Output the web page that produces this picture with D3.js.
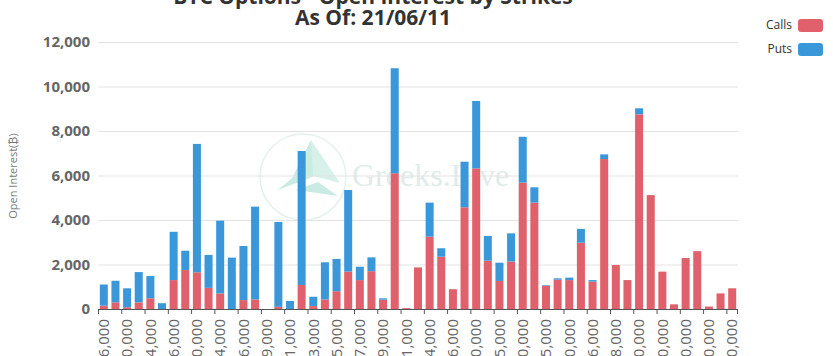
<!DOCTYPE html>
<html>
<head>
<meta charset="utf-8">
<script src="https://cdn.jsdelivr.net/npm/d3@7/dist/d3.min.js"></script>
<style>
html,body{margin:0;padding:0;background:#fff;}
svg{display:block;font-family:"Open Sans",sans-serif;}
</style>
</head>
<body>
<svg id="chart" width="833" height="356"></svg>
<script>
const strikes = ["16,000","18,000","20,000","22,000","24,000","25,000","26,000","28,000","30,000","32,000",
  "34,000","35,000","36,000","38,000","39,000","40,000","41,000","42,000","43,000","44,000",
  "45,000","46,000","47,000","48,000","49,000","50,000","51,000","52,000","54,000","55,000",
  "56,000","58,000","60,000","64,000","65,000","68,000","70,000","72,000","75,000","78,000",
  "80,000","85,000","86,000","87,000","88,000","90,000","100,000","110,000","120,000","130,000",
  "140,000","150,000","200,000","250,000","300,000"];
const calls = [150,300,80,300,480,0,1300,1750,1650,950,
  700,0,400,430,0,100,0,1080,130,430,
  800,1680,1300,1700,420,6100,40,1870,3250,2350,
  890,4570,6320,2170,1260,2130,5680,4780,1040,1320,
  1300,2980,1230,6740,1980,1300,8750,5120,1680,210,
  2290,2600,110,700,930];
const puts = [950,970,850,1360,1000,260,2170,870,5770,1480,
  3270,2310,2430,4170,0,3810,360,6020,420,1670,
  1450,3670,600,620,60,4720,0,0,1530,380,
  0,2050,3030,1110,820,1270,2060,690,30,60,
  110,620,70,210,0,0,270,0,0,0,
  0,0,0,0,0];
const yTicks = [0,2000,4000,6000,8000,10000,12000];
const seriesNames = ["Calls","Puts"];
const colors = ["#e0616b","#3a98da"];
const titleLines = ["BTC Options - Open Interest by Strikes","As Of: 21/06/11"];
const yAxisName = "Open Interest(\u20BF)";

const svg = d3.select("#chart");
const m = {left:98, right:738, top:42, bottom:309};

const x = d3.scaleBand().domain(d3.range(strikes.length)).range([m.left, m.right]).paddingInner(0.31).paddingOuter(0.155);
const xb = d3.scaleBand().domain(d3.range(strikes.length)).range([m.left, m.right]);
const y = d3.scaleLinear().domain([0,12000]).range([m.bottom, m.top]);

// watermark
const wm = svg.append("g").attr("opacity",0.55);
wm.append("circle").attr("cx",303).attr("cy",177).attr("r",43).attr("fill","none").attr("stroke","#cfe6e1").attr("stroke-width",1.5);
wm.append("path").attr("d","M311,140 L292,178 L278,190 L325,172 Z").attr("fill","#9fdccd");
wm.append("path").attr("d","M311,140 L340,183 L313,176 Z").attr("fill","#b7e6da");
wm.append("path").attr("d","M296,190 L338,196 L318,182 Z").attr("fill","#9fdccd");
wm.append("text").attr("x",352).attr("y",186).attr("font-family","'Liberation Serif',serif").attr("font-size",32).attr("fill","#c9dcd8").text("Greeks.Live");

// grid
svg.append("g").selectAll("line").data(yTicks.filter(d=>d>0)).join("line")
  .attr("x1",m.left).attr("x2",m.right).attr("y1",d=>y(d)+0.5).attr("y2",d=>y(d)+0.5)
  .attr("stroke","#e3e3e3").attr("stroke-width",1);

// y labels
svg.append("g").selectAll("text").data(yTicks).join("text")
  .attr("x",90).attr("y",d=>y(d)).attr("dy","0.35em").attr("text-anchor","end")
  .attr("font-size",15).attr("font-weight","bold").attr("fill","#666")
  .text(d=>d3.format(",")(d));

// y axis name
svg.append("text").attr("transform","translate(17,176) rotate(-90)").attr("text-anchor","middle")
  .attr("font-size",11).attr("fill","#777").text(yAxisName);

// bars
const stack = d3.stack().keys([0,1]).value((d,k)=>k===0?d.c:d.p);
const rows = strikes.map((s,i)=>({i, c:calls[i], p:puts[i]}));
const layers = stack(rows);
svg.append("g").selectAll("g").data(layers).join("g").attr("fill",(d,k)=>colors[k])
  .selectAll("rect").data(d=>d).join("rect")
  .attr("x",d=>x(d.data.i)).attr("width",x.bandwidth())
  .attr("y",d=>y(d[1])).attr("height",d=>Math.max(0,y(d[0])-y(d[1])));

// x axis
const xa = svg.append("g");
xa.append("line").attr("x1",m.left).attr("x2",m.right).attr("y1",m.bottom+0.5).attr("y2",m.bottom+0.5).attr("stroke","#555");
const labIdx = d3.range(0,strikes.length,2);
xa.selectAll("line.t").data(labIdx.concat([strikes.length])).join("line").attr("class","t")
  .attr("x1",d=>d<strikes.length?xb(d)+0.5:m.right-0.5).attr("x2",d=>d<strikes.length?xb(d)+0.5:m.right-0.5)
  .attr("y1",m.bottom).attr("y2",m.bottom+5).attr("stroke","#555");
xa.selectAll("text").data(labIdx).join("text")
  .attr("transform",d=>`translate(${xb(d)+xb.bandwidth()/2},319) rotate(-90)`)
  .attr("dy","0.35em").attr("text-anchor","end").attr("font-size",15).attr("fill","#666")
  .text(d=>strikes[d]);

// title
const t = svg.append("text").attr("text-anchor","middle").attr("font-size",21).attr("font-weight","bold").attr("fill","#333");
t.append("tspan").attr("x",373).attr("y",4).text(titleLines[0]);
t.append("tspan").attr("x",373).attr("y",25).text(titleLines[1]);

// legend
const lg = svg.append("g").selectAll("g").data(seriesNames).join("g")
  .attr("transform",(d,i)=>`translate(0,${25+i*24})`);
lg.append("rect").attr("x",798).attr("y",-6).attr("width",25).attr("height",13).attr("rx",3).attr("fill",(d,i)=>colors[i]);
lg.append("text").attr("x",792).attr("dy","0.35em").attr("text-anchor","end").attr("font-size",12).attr("fill","#333").text(d=>d);
</script>
</body>
</html>
